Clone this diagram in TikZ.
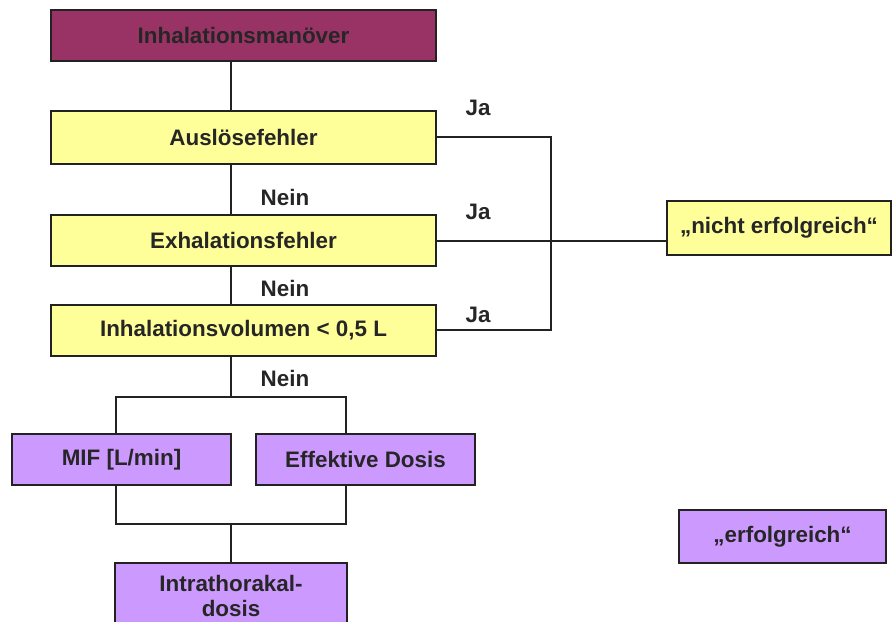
\documentclass[tikz,border=0pt]{standalone}
\usepackage{fontspec}
\setmainfont{Liberation Sans}
\definecolor{magbox}{HTML}{993366}
\definecolor{yelbox}{HTML}{FFFF99}
\definecolor{purbox}{HTML}{CC99FF}
\definecolor{edge}{HTML}{222222}
\begin{document}
\begin{tikzpicture}[x=1pt,y=-1pt,
  box/.style={draw=edge,line width=1.6pt,inner sep=0pt,align=center,
    font=\fontsize{22.4}{25}\selectfont\bfseries,text=black!85},
  wide/.style={box,minimum width=385pt,minimum height=51pt},
  half/.style={box,minimum width=219pt,minimum height=51pt},
  conn/.style={draw=edge,line width=1.6pt},
  lab/.style={font=\fontsize{22.4}{25}\selectfont\bfseries,text=black!85,inner sep=0pt}]
\useasboundingbox (0,0) rectangle (893,621);
\clip (0,0) rectangle (893,621);
\node[wide,fill=magbox,minimum height=51pt] (im) at (243.5,35.5) {Inhalationsmanöver};
\node[wide,fill=yelbox,minimum height=53pt] (af) at (243.5,137.5) {Auslösefehler};
\node[wide,fill=yelbox] (ef) at (243.5,240.5) {Exhalationsfehler};
\node[wide,fill=yelbox] (iv) at (243.5,330.5) {Inhalationsvolumen < 0,5 L};
\node[half,fill=purbox] (mif) at (121.5,459.5) {MIF [L/min]};
\node[half,fill=purbox] (ed) at (365.5,459.5) {Effektive Dosis};
\node[box,fill=purbox,minimum width=232pt,minimum height=66pt,font=\fontsize{22.4}{25}\selectfont\bfseries] (itd) at (231,596) {Intrathorakal-\\dosis};
\node[box,fill=yelbox,minimum width=224pt,minimum height=54pt] (ne) at (779,228) {„nicht erfolgreich“};
\node[box,fill=purbox,minimum width=207pt,minimum height=53pt] (er) at (782.5,536.5) {„erfolgreich“};
% vertical spine
\coordinate (sx) at (231,0);
\draw[conn] (im.south -| sx) -- (af.north -| sx);
\draw[conn] (af.south -| sx) -- (ef.north -| sx);
\draw[conn] (ef.south -| sx) -- (iv.north -| sx);
\coordinate (split) at (231,397);
\coordinate (join) at (231,524);
\coordinate (lx) at (116,0);
\coordinate (rx) at (346,0);
\draw[conn] (iv.south -| sx) -- (split);
\draw[conn] (mif.north -| lx) -- (split -| lx) -- (split -| rx) -- (ed.north -| rx);
\draw[conn] (mif.south -| lx) -- (join -| lx) -- (join -| rx) -- (ed.south -| rx);
\draw[conn] (join) -- (itd.north -| join);
% right side
\coordinate (bx) at (551,0);
\coordinate (ay) at (0,137);
\coordinate (iy) at (0,330);
\coordinate (ey) at (0,241);
\draw[conn] (af.east |- ay) -- (bx |- ay) -- (bx |- iy) -- (iv.east |- iy);
\draw[conn] (ef.east |- ey) -- (ne.west |- ey);
% labels
\node[lab] (ja1) at (478,108) {Ja};
\node[lab] (ja2) at (478,212) {Ja};
\node[lab] (ja3) at (478,315) {Ja};
\node[lab] (n1) at (285,197) {Nein};
\node[lab] (n2) at (285,288) {Nein};
\node[lab] (n3) at (285,378) {Nein};
\end{tikzpicture}
\end{document}
